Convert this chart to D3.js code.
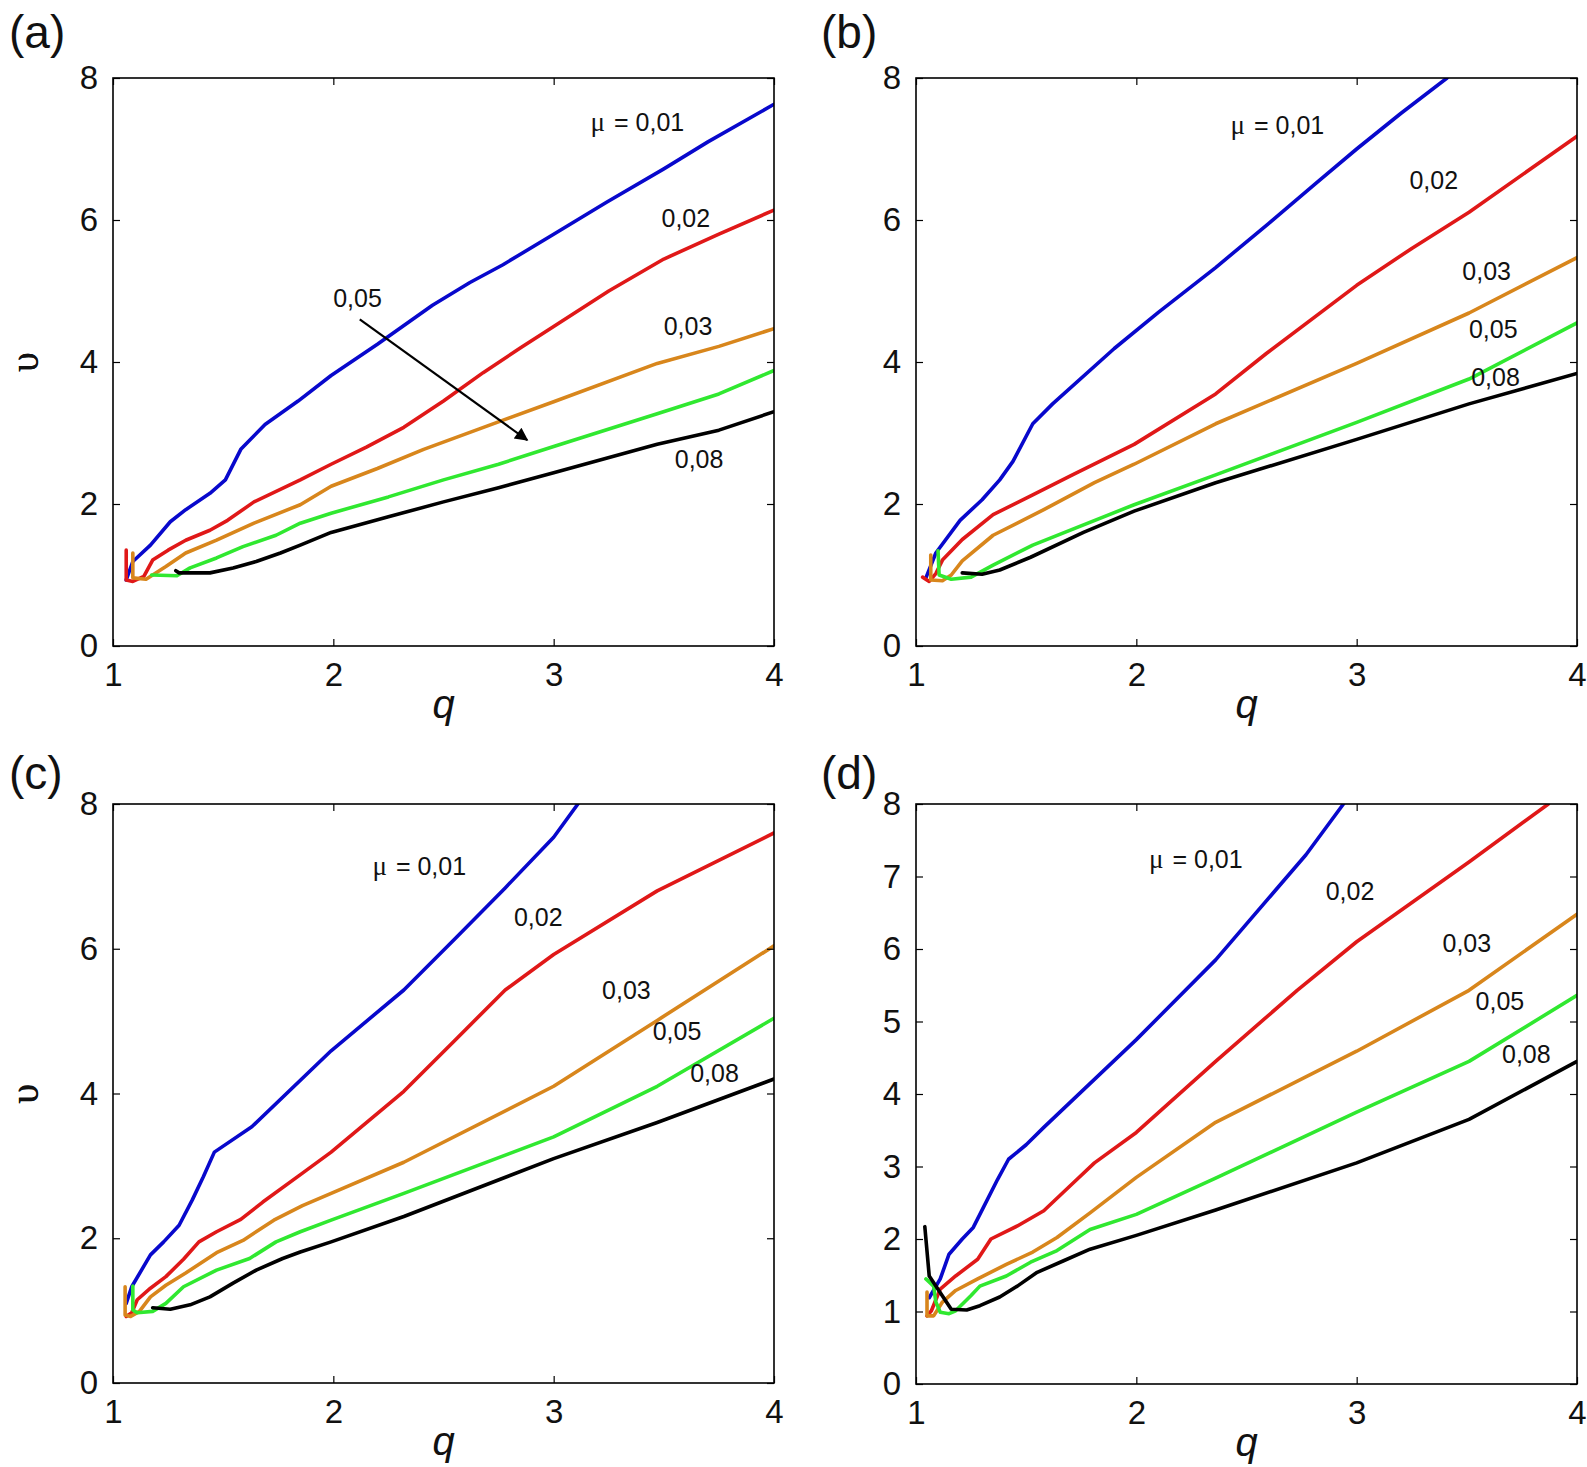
<!DOCTYPE html>
<html>
<head>
<meta charset="utf-8">
<script src="https://cdn.jsdelivr.net/npm/d3@7"></script>
<style>
  body { margin: 0; background: #fff; }
  svg text { font-family: "Liberation Sans", Arial, Helvetica, sans-serif; fill: #111; }
</style>
</head>
<body>
<div id="chart"></div>
<script>
// axis ticks and curve labels
const qTicks = [1, 2, 3, 4];
const vTicksEven = [0, 2, 4, 6, 8];
const vTicksAll = [0, 1, 2, 3, 4, 5, 6, 7, 8];
const muLabels = ["0,01", "0,02", "0,03", "0,05", "0,08"];
const panelLetters = ["(a)", "(b)", "(c)", "(d)"];

// panel (a): [q, v] points for mu = 0.01, 0.02, 0.03, 0.05, 0.08
const a01 = [[1.06,0.93],[1.09,1.19],[1.17,1.42],[1.26,1.75],[1.33,1.92],[1.44,2.15],[1.51,2.34],[1.58,2.77],[1.69,3.12],[1.84,3.45],[1.99,3.81],[2.2,4.25],[2.45,4.8],[2.62,5.12],[2.77,5.37],[3.0,5.8],[3.24,6.25],[3.5,6.72],[3.7,7.1],[4.0,7.63]];
const a02 = [[1.06,1.35],[1.06,0.93],[1.09,0.91],[1.14,0.98],[1.18,1.21],[1.25,1.35],[1.33,1.49],[1.44,1.63],[1.52,1.77],[1.64,2.03],[1.85,2.34],[1.99,2.56],[2.15,2.8],[2.32,3.08],[2.5,3.45],[2.68,3.85],[2.85,4.2],[3.0,4.5],[3.25,5.0],[3.5,5.45],[3.75,5.8],[4.0,6.14]];
const a03 = [[1.09,1.31],[1.09,0.96],[1.15,0.94],[1.24,1.12],[1.33,1.31],[1.47,1.49],[1.64,1.73],[1.85,1.99],[1.99,2.25],[2.2,2.5],[2.41,2.77],[2.7,3.1],[3.0,3.44],[3.47,3.98],[3.75,4.22],[4.0,4.47]];
const a05 = [[1.175,1.0],[1.29,0.99],[1.35,1.1],[1.47,1.24],[1.59,1.4],[1.74,1.56],[1.85,1.73],[1.99,1.87],[2.25,2.1],[2.5,2.34],[2.75,2.56],[3.0,2.81],[3.47,3.27],[3.75,3.55],[4.0,3.88]];
const a08 = [[1.285,1.06],[1.3,1.03],[1.44,1.03],[1.545,1.1],[1.65,1.19],[1.76,1.31],[1.85,1.42],[1.99,1.6],[2.25,1.82],[2.5,2.03],[2.75,2.23],[3.0,2.44],[3.47,2.84],[3.75,3.04],[4.0,3.3]];

// panel (b)
const b01 = [[1.045,0.96],[1.09,1.31],[1.2,1.77],[1.3,2.06],[1.38,2.34],[1.44,2.6],[1.53,3.13],[1.62,3.41],[1.9,4.19],[2.1,4.7],[2.36,5.33],[2.6,5.95],[2.82,6.53],[3.0,7.0],[3.2,7.5],[3.41,8.0]];
const b02 = [[1.03,0.97],[1.06,0.91],[1.09,1.02],[1.12,1.21],[1.21,1.5],[1.35,1.85],[1.53,2.13],[1.71,2.41],[1.99,2.84],[2.36,3.55],[2.59,4.12],[3.0,5.08],[3.25,5.6],[3.51,6.11],[4.0,7.18]];
const b03 = [[1.067,1.28],[1.067,0.93],[1.12,0.92],[1.16,1.0],[1.21,1.2],[1.35,1.56],[1.58,1.92],[1.81,2.3],[1.99,2.56],[2.36,3.13],[3.0,3.98],[3.51,4.69],[4.0,5.47]];
const b05 = [[1.1,1.34],[1.105,1.0],[1.16,0.94],[1.25,0.97],[1.35,1.14],[1.53,1.42],[1.99,1.99],[2.36,2.41],[3.0,3.15],[3.51,3.76],[4.0,4.55]];
const b08 = [[1.21,1.03],[1.3,1.01],[1.38,1.07],[1.52,1.25],[1.76,1.6],[1.99,1.9],[2.36,2.3],[3.0,2.91],[3.51,3.41],[4.0,3.84]];

// panel (c)
const c01 = [[1.06,1.1],[1.085,1.33],[1.17,1.77],[1.23,1.95],[1.3,2.18],[1.36,2.53],[1.41,2.85],[1.46,3.19],[1.63,3.54],[1.99,4.59],[2.32,5.43],[2.55,6.13],[2.78,6.84],[3.0,7.54],[3.11,8.0]];
const c02 = [[1.06,0.92],[1.085,0.97],[1.11,1.15],[1.17,1.31],[1.24,1.47],[1.32,1.71],[1.39,1.95],[1.47,2.09],[1.58,2.26],[1.68,2.5],[1.86,2.9],[1.99,3.19],[2.32,4.03],[2.55,4.73],[2.78,5.43],[3.0,5.92],[3.47,6.8],[4.0,7.6]];
const c03 = [[1.055,1.33],[1.055,0.94],[1.08,0.92],[1.12,0.99],[1.17,1.19],[1.24,1.35],[1.33,1.52],[1.47,1.8],[1.59,1.97],[1.73,2.25],[1.86,2.45],[1.99,2.62],[2.32,3.05],[3.0,4.1],[3.47,5.01],[4.0,6.04]];
const c05 = [[1.09,1.34],[1.09,1.01],[1.11,0.97],[1.18,0.99],[1.24,1.1],[1.32,1.33],[1.47,1.56],[1.62,1.72],[1.74,1.95],[1.85,2.09],[1.99,2.25],[2.32,2.62],[3.0,3.4],[3.47,4.1],[4.0,5.04]];
const c08 = [[1.18,1.04],[1.26,1.02],[1.35,1.08],[1.44,1.19],[1.545,1.38],[1.65,1.56],[1.77,1.72],[1.85,1.81],[1.99,1.95],[2.32,2.3],[3.0,3.1],[3.47,3.6],[4.0,4.2]];

// panel (d)
const d01 = [[1.06,1.19],[1.11,1.45],[1.15,1.79],[1.21,2.0],[1.26,2.16],[1.31,2.46],[1.37,2.82],[1.42,3.1],[1.5,3.3],[1.58,3.54],[2.0,4.75],[2.36,5.85],[2.77,7.3],[2.94,8.0]];
const d02 = [[1.05,0.94],[1.07,1.01],[1.11,1.31],[1.18,1.49],[1.28,1.72],[1.34,2.0],[1.46,2.18],[1.58,2.39],[1.73,2.82],[1.81,3.05],[2.0,3.47],[2.36,4.45],[2.73,5.43],[3.0,6.1],[3.51,7.2],[3.87,8.0]];
const d03 = [[1.05,1.27],[1.05,0.94],[1.08,0.94],[1.12,1.13],[1.18,1.29],[1.28,1.45],[1.41,1.65],[1.53,1.82],[1.64,2.02],[1.79,2.36],[2.0,2.85],[2.36,3.61],[3.0,4.59],[3.51,5.43],[4.0,6.48]];
const d05 = [[1.045,1.45],[1.08,1.35],[1.09,1.13],[1.11,0.99],[1.15,0.97],[1.18,1.01],[1.25,1.22],[1.29,1.35],[1.41,1.49],[1.52,1.68],[1.64,1.84],[1.79,2.13],[2.0,2.34],[2.36,2.84],[3.0,3.75],[3.51,4.45],[4.0,5.36]];
const d08 = [[1.04,2.17],[1.06,1.49],[1.16,1.03],[1.23,1.02],[1.29,1.08],[1.38,1.2],[1.46,1.35],[1.55,1.54],[1.67,1.7],[1.79,1.86],[2.0,2.05],[2.36,2.4],[3.0,3.05],[3.51,3.65],[4.0,4.45]];

const colors = ["#0808cc", "#e01818", "#d8861c", "#30e830", "#000000"];

const W = 1587, H = 1467;

const panels = [
    {letter: panelLetters[0], lx: 9, ly: 48, left: 113, right: 774, top: 78, bottom: 646,
     series: [a01, a02, a03, a05, a08], vTicks: vTicksEven,
     labels: [{i: 0, q: 3.38, v: 7.37, mu: true}, {i: 1, q: 3.6, v: 6.02}, {i: 2, q: 3.61, v: 4.5},
              {i: 4, q: 3.66, v: 2.63}, {i: 3, q: 2.11, v: 4.9}],
     arrow: [[2.12, 4.6], [2.88, 2.9]]},
    {letter: panelLetters[1], lx: 821, ly: 48, left: 916, right: 1577, top: 78, bottom: 646,
     series: [b01, b02, b03, b05, b08], vTicks: vTicksEven,
     labels: [{i: 0, q: 2.64, v: 7.33, mu: true}, {i: 1, q: 3.35, v: 6.56}, {i: 2, q: 3.59, v: 5.28},
              {i: 3, q: 3.62, v: 4.46}, {i: 4, q: 3.63, v: 3.78}]},
    {letter: panelLetters[2], lx: 9, ly: 789, left: 113, right: 774, top: 804, bottom: 1383,
     series: [c01, c02, c03, c05, c08], vTicks: vTicksEven,
     labels: [{i: 0, q: 2.39, v: 7.14, mu: true}, {i: 1, q: 2.93, v: 6.44}, {i: 2, q: 3.33, v: 5.42},
              {i: 3, q: 3.56, v: 4.86}, {i: 4, q: 3.73, v: 4.28}]},
    {letter: panelLetters[3], lx: 821, ly: 789, left: 916, right: 1577, top: 804, bottom: 1384,
     series: [d01, d02, d03, d05, d08], vTicks: vTicksAll,
     labels: [{i: 0, q: 2.27, v: 7.24, mu: true}, {i: 1, q: 2.97, v: 6.79}, {i: 2, q: 3.5, v: 6.08},
              {i: 3, q: 3.65, v: 5.28}, {i: 4, q: 3.77, v: 4.55}]}
];

const svg = d3.select("#chart")
    .append("svg")
    .attr("width", W)
    .attr("height", H)
    .style("background", "#fff");

// arrow head for panel (a)
svg.append("defs")
    .append("marker")
    .attr("id", "arrowhead")
    .attr("viewBox", "0 0 10 10")
    .attr("refX", 9)
    .attr("refY", 5)
    .attr("markerWidth", 7)
    .attr("markerHeight", 6)
    .attr("orient", "auto")
    .append("path")
    .attr("d", "M0,0 L10,5 L0,10 Z")
    .attr("fill", "#000");

function drawPanel(p, k) {
    const x = d3.scaleLinear().domain([1, 4]).range([p.left, p.right]);
    const y = d3.scaleLinear().domain([0, 8]).range([p.bottom, p.top]);
    const g = svg.append("g");

    g.append("clipPath")
        .attr("id", "clip" + k)
        .append("rect")
        .attr("x", p.left).attr("y", p.top)
        .attr("width", p.right - p.left).attr("height", p.bottom - p.top);

    const line = d3.line()
        .x(d => x(d[0]))
        .y(d => y(d[1]));

    // curves
    g.append("g")
        .attr("clip-path", "url(#clip" + k + ")")
        .selectAll("path")
        .data(p.series)
        .enter()
        .append("path")
        .attr("d", line)
        .attr("fill", "none")
        .attr("stroke", (d, i) => colors[i])
        .attr("stroke-width", 3.6)
        .attr("stroke-linejoin", "round")
        .attr("stroke-linecap", "round");

    // box
    g.append("rect")
        .attr("x", p.left).attr("y", p.top)
        .attr("width", p.right - p.left).attr("height", p.bottom - p.top)
        .attr("fill", "none")
        .attr("stroke", "#000")
        .attr("stroke-width", 1.6);

    // axes with inward ticks
    const bottomAxis = g.append("g")
        .attr("transform", `translate(0,${p.bottom})`)
        .call(d3.axisBottom(x).tickValues(qTicks).tickSizeInner(-7).tickSizeOuter(0)
            .tickPadding(17).tickFormat(d3.format("d")));
    const leftAxis = g.append("g")
        .attr("transform", `translate(${p.left},0)`)
        .call(d3.axisLeft(y).tickValues(p.vTicks).tickSizeInner(-7).tickSizeOuter(0)
            .tickPadding(15).tickFormat(d3.format("d")));
    const topAxis = g.append("g")
        .attr("transform", `translate(0,${p.top})`)
        .call(d3.axisTop(x).tickValues(qTicks).tickSizeInner(-7).tickSizeOuter(0).tickFormat(""));
    const rightAxis = g.append("g")
        .attr("transform", `translate(${p.right},0)`)
        .call(d3.axisRight(y).tickValues(p.vTicks).tickSizeInner(-7).tickSizeOuter(0).tickFormat(""));

    [bottomAxis, leftAxis, topAxis, rightAxis].forEach(ax => {
        ax.select(".domain").remove();
        ax.selectAll("line").attr("stroke", "#000").attr("stroke-width", 1.2);
        ax.selectAll("text")
            .style("font-size", "33px")
            .style("font-family", "'Liberation Sans', Arial, sans-serif")
            .attr("fill", "#111");
    });

    // axis titles
    g.append("text")
        .attr("x", (p.left + p.right) / 2)
        .attr("y", p.bottom + 72)
        .attr("text-anchor", "middle")
        .style("font-size", "40px")
        .style("font-style", "italic")
        .text("q");

    g.append("text")
        .attr("transform", `translate(38,${(p.top + p.bottom) / 2}) rotate(-90)`)
        .attr("text-anchor", "middle")
        .style("font-size", "40px")
        .style("font-family", "'Liberation Serif', 'DejaVu Serif', serif")
        .text("υ");

    // panel letter
    g.append("text")
        .attr("x", p.lx)
        .attr("y", p.ly)
        .style("font-size", "46px")
        .text(p.letter);

    // curve labels
    p.labels.forEach(l => {
        const t = g.append("text")
            .attr("x", x(l.q))
            .attr("y", y(l.v))
            .attr("dy", "0.35em")
            .attr("text-anchor", "middle")
            .style("font-size", "25px")
            .style("white-space", "pre");
        if (l.mu) {
            t.append("tspan")
                .style("font-family", "'Liberation Serif', 'DejaVu Serif', serif")
                .style("font-size", "27px")
                .text("μ");
            t.append("tspan").attr("dx", 9).text("= " + muLabels[l.i]);
        } else {
            t.text(muLabels[l.i]);
        }
    });

    if (p.arrow) {
        g.append("line")
            .attr("x1", x(p.arrow[0][0])).attr("y1", y(p.arrow[0][1]))
            .attr("x2", x(p.arrow[1][0])).attr("y2", y(p.arrow[1][1]))
            .attr("stroke", "#000")
            .attr("stroke-width", 2.2)
            .attr("marker-end", "url(#arrowhead)");
    }
}

panels.forEach(drawPanel);
</script>
</body>
</html>
